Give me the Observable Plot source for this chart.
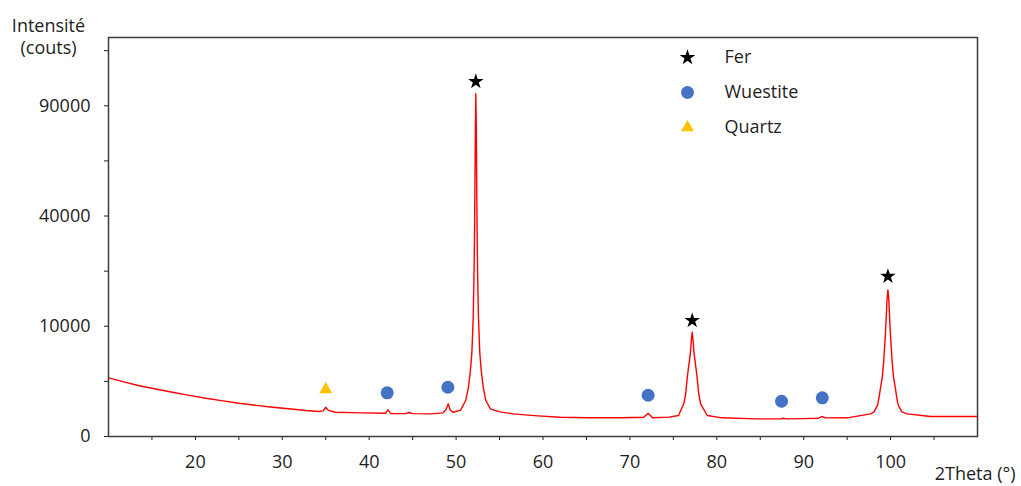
<!DOCTYPE html>
<html><head><meta charset="utf-8">
<script src="https://cdn.jsdelivr.net/npm/d3@7"></script>
<script src="https://cdn.jsdelivr.net/npm/@observablehq/plot@0.6"></script>
<style>
body{margin:0;background:#fff;}
#wrap{position:relative;width:1021px;height:486px;font-family:"Open Sans",sans-serif;}
#legend{position:absolute;left:677px;top:38px;}
</style></head><body><div id="wrap"><div id="legend"></div></div>
<script>
// 2Theta (°) positions of the measured pattern
const theta = [10, 11, 12, 13.4, 15, 17.35, 19, 21.2, 23, 25, 27, 28.9, 31, 32.7, 34.2, 34.7, 35.0, 35.3, 36.1, 38, 39.3, 41.9, 42.15, 42.5, 44.2, 44.6, 45.0, 47, 48.5, 48.85, 49.1, 49.3, 49.6, 50.5, 51.1, 51.42, 51.65, 51.82, 51.97, 52.07, 52.12, 52.17, 52.22, 52.27, 52.32, 52.37, 52.42, 52.47, 52.57, 52.72, 52.89, 53.12, 53.42, 53.95, 55, 56.6, 59, 62, 65.2, 69.1, 71.6, 72.1, 72.6, 74.5, 75.6, 76.2, 76.42, 76.62, 76.77, 76.87, 76.97, 77.07, 77.17, 77.27, 77.37, 77.47, 77.57, 77.72, 77.92, 78.14, 78.9, 80.6, 84.5, 87.3, 87.6, 88, 90, 91.7, 92.1, 92.5, 95, 97.7, 98.09, 98.49, 98.64, 98.85, 99.04, 99.21, 99.39, 99.49, 99.59, 99.69, 99.79, 99.89, 99.99, 100.17, 100.34, 100.53, 100.74, 100.89, 101.29, 101.9, 104.6, 107, 110];
// Intensité (couts)
const counts = [2830, 2612, 2412, 2137, 1916, 1612, 1428, 1205, 1059, 911, 800, 705, 621, 555, 513, 540, 705, 560, 485, 470, 461, 446, 586, 430, 430, 475, 430, 423, 461, 600, 878, 600, 485, 560, 1065, 2000, 3578, 5900, 11800, 22700, 34000, 53000, 80000, 96650, 80000, 53000, 34000, 22700, 11800, 5900, 3578, 2000, 1065, 630, 500, 423, 360, 306, 287, 287, 306, 446, 290, 310, 362, 878, 1500, 3000, 4100, 4900, 5900, 7600, 8935, 7600, 5900, 4900, 4100, 3000, 1500, 878, 362, 287, 257, 257, 275, 257, 262, 275, 329, 285, 287, 423, 500, 800, 1150, 1997, 2900, 4745, 8300, 11500, 15500, 17680, 15500, 11500, 8300, 4745, 2900, 1997, 1150, 800, 500, 423, 329, 330, 329];

// phase markers
const phases = ["Fer", "Wuestite", "Quartz"];
const phaseSymbols = ["star", "circle", "triangle"];
const phaseColors = ["#000000", "#4472C4", "#FFC000"];
const ferTheta = [52.27, 77.17, 99.69];
const ferCounts = [103700, 11050, 21110];
const wuestiteTheta = [42.07, 49.05, 72.1, 87.45, 92.14];
const wuestiteCounts = [1568, 1997, 1401, 1024, 1230];
const quartzTheta = [35.0];
const quartzCounts = [1815];

// ticks
const xTicks = [15, 20, 25, 30, 35, 40, 45, 50, 55, 60, 65, 70, 75, 80, 85, 90, 95, 100, 105];
const xLabels = [20, 30, 40, 50, 60, 70, 80, 90, 100];
const yTicks = [0, 2500, 10000, 22500, 40000, 62500, 90000, 122500];
const yLabels = [0, 10000, 40000, 90000];

const spectrum = theta.map((t, i) => ({theta: t, counts: counts[i]}));
const markerSets = [
  ferTheta.map((t, i) => ({theta: t, counts: ferCounts[i], phase: "Fer"})),
  wuestiteTheta.map((t, i) => ({theta: t, counts: wuestiteCounts[i], phase: "Wuestite"})),
  quartzTheta.map((t, i) => ({theta: t, counts: quartzCounts[i], phase: "Quartz"}))
];
const symbolR = {Fer: 4.9, Wuestite: 6.5, Quartz: 4.8};

const symbolScale = {domain: phases, range: phaseSymbols};
const colorScale = {domain: phases, range: phaseColors};

const chart = Plot.plot({
  width: 1021,
  height: 486,
  marginLeft: 108,
  marginRight: 44,
  marginTop: 37,
  marginBottom: 50,
  style: {fontFamily: "Open Sans, sans-serif", fontSize: "18px", color: "#1e1e1e", background: "transparent"},
  x: {domain: [10, 110], ticks: xTicks, tickSize: 4, tickPadding: 15, label: null,
      tickFormat: d => xLabels.includes(d) ? String(d) : ""},
  y: {type: "sqrt", domain: [0, 131000], ticks: yTicks, tickSize: 4, tickPadding: 14, label: null,
      tickFormat: d => yLabels.includes(d) ? String(d) : ""},
  symbol: symbolScale,
  color: colorScale,
  marks: [
    Plot.line(spectrum, {x: "theta", y: "counts", stroke: "#ff0000", strokeWidth: 1.4}),
    ...markerSets.map(set => Plot.dot(set, {x: "theta", y: "counts", symbol: "phase", fill: "phase", r: symbolR[set[0].phase]})),
    Plot.frame({stroke: "#3c3c3c", strokeWidth: 1.5}),
    Plot.text(["Intensité\n(couts)"], {frameAnchor: "top-left", dx: -60, dy: -21, lineAnchor: "top", lineHeight: 1.22, textAnchor: "middle", fontSize: 18, fill: "#1e1e1e"}),
    Plot.text(["2Theta (°)"], {frameAnchor: "bottom-right", dx: 38, dy: 38, lineAnchor: "middle", textAnchor: "end", fontSize: 18, fill: "#1e1e1e"})
  ]
});
document.getElementById("wrap").prepend(chart);

const legend = Plot.plot({
  width: 150,
  height: 107,
  margin: 0,
  style: {fontFamily: "Open Sans, sans-serif", fontSize: "18px", color: "#1e1e1e", background: "transparent", overflow: "visible"},
  y: {type: "point", domain: phases, axis: null},
  symbol: symbolScale,
  color: colorScale,
  marks: [
    ...phases.map(p => Plot.dot([p], {y: d => d, symbol: d => d, fill: d => d, r: symbolR[p], frameAnchor: "left", dx: 10})),
    Plot.text(phases, {y: d => d, text: d => d, frameAnchor: "left", dx: 47, textAnchor: "start", fontSize: 18, fill: "#1e1e1e"})
  ]
});
document.getElementById("legend").appendChild(legend);
</script>
</body></html>
